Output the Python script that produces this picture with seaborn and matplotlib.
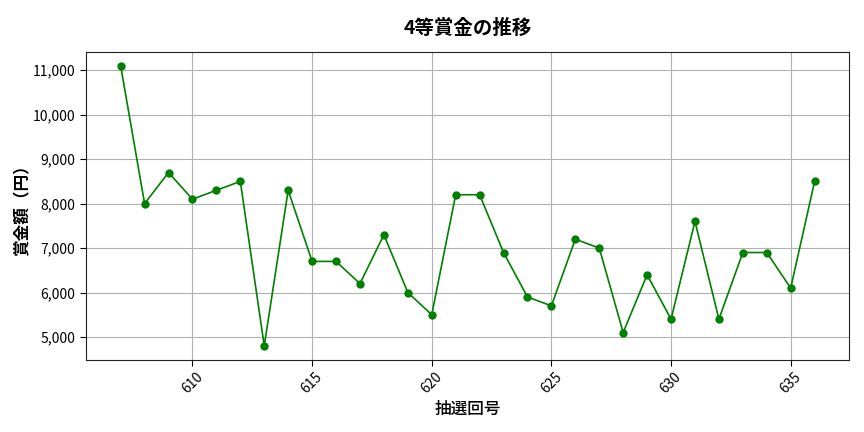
import matplotlib
matplotlib.use("Agg")
import matplotlib.pyplot as plt
import matplotlib.ticker as mticker
import seaborn as sns
import pandas as pd

draws = list(range(607, 637))
prizes = [11100, 8000, 8700, 8100, 8300, 8500, 4800, 8300, 6700, 6700,
          6200, 7300, 6000, 5500, 8200, 8200, 6900, 5900, 5700, 7200,
          7000, 5100, 6400, 5400, 7600, 5400, 6900, 6900, 6100, 8500]

df = pd.DataFrame({"draw": draws, "prize": prizes})

sns.set_style("white")
plt.rcParams["font.family"] = ["Noto Sans CJK JP", "DejaVu Sans"]

fig, ax = plt.subplots(figsize=(8.64, 4.32), dpi=100)
sns.lineplot(data=df, x="draw", y="prize", ax=ax, color="green",
             marker="o", markersize=6, markeredgewidth=0, linewidth=1.2)

ax.set_title("4等賞金の推移", fontsize=14, fontweight="bold", pad=13, color="black")
ax.set_xlabel("抽選回号", fontsize=12, labelpad=2, color="black", fontweight="medium")
ax.set_ylabel("賞金額（円）", fontsize=12, labelpad=1, color="black", fontweight="bold")
ax.yaxis.set_major_formatter(mticker.FuncFormatter(lambda v, p: f"{int(v):,}"))
ax.xaxis.set_major_locator(mticker.MultipleLocator(5))
ax.tick_params(axis="x", rotation=45, labelsize=10, colors="black", length=4, width=0.8,
               bottom=True)
ax.tick_params(axis="y", labelsize=10, colors="black", length=4, width=0.8, left=True)
ax.grid(True, color="#b0b0b0", linewidth=0.8)
for s in ax.spines.values():
    s.set_color("#222222")

fig.subplots_adjust(left=0.0995, right=0.983, top=0.88, bottom=0.167)
plt.savefig("out.png", dpi=100)
